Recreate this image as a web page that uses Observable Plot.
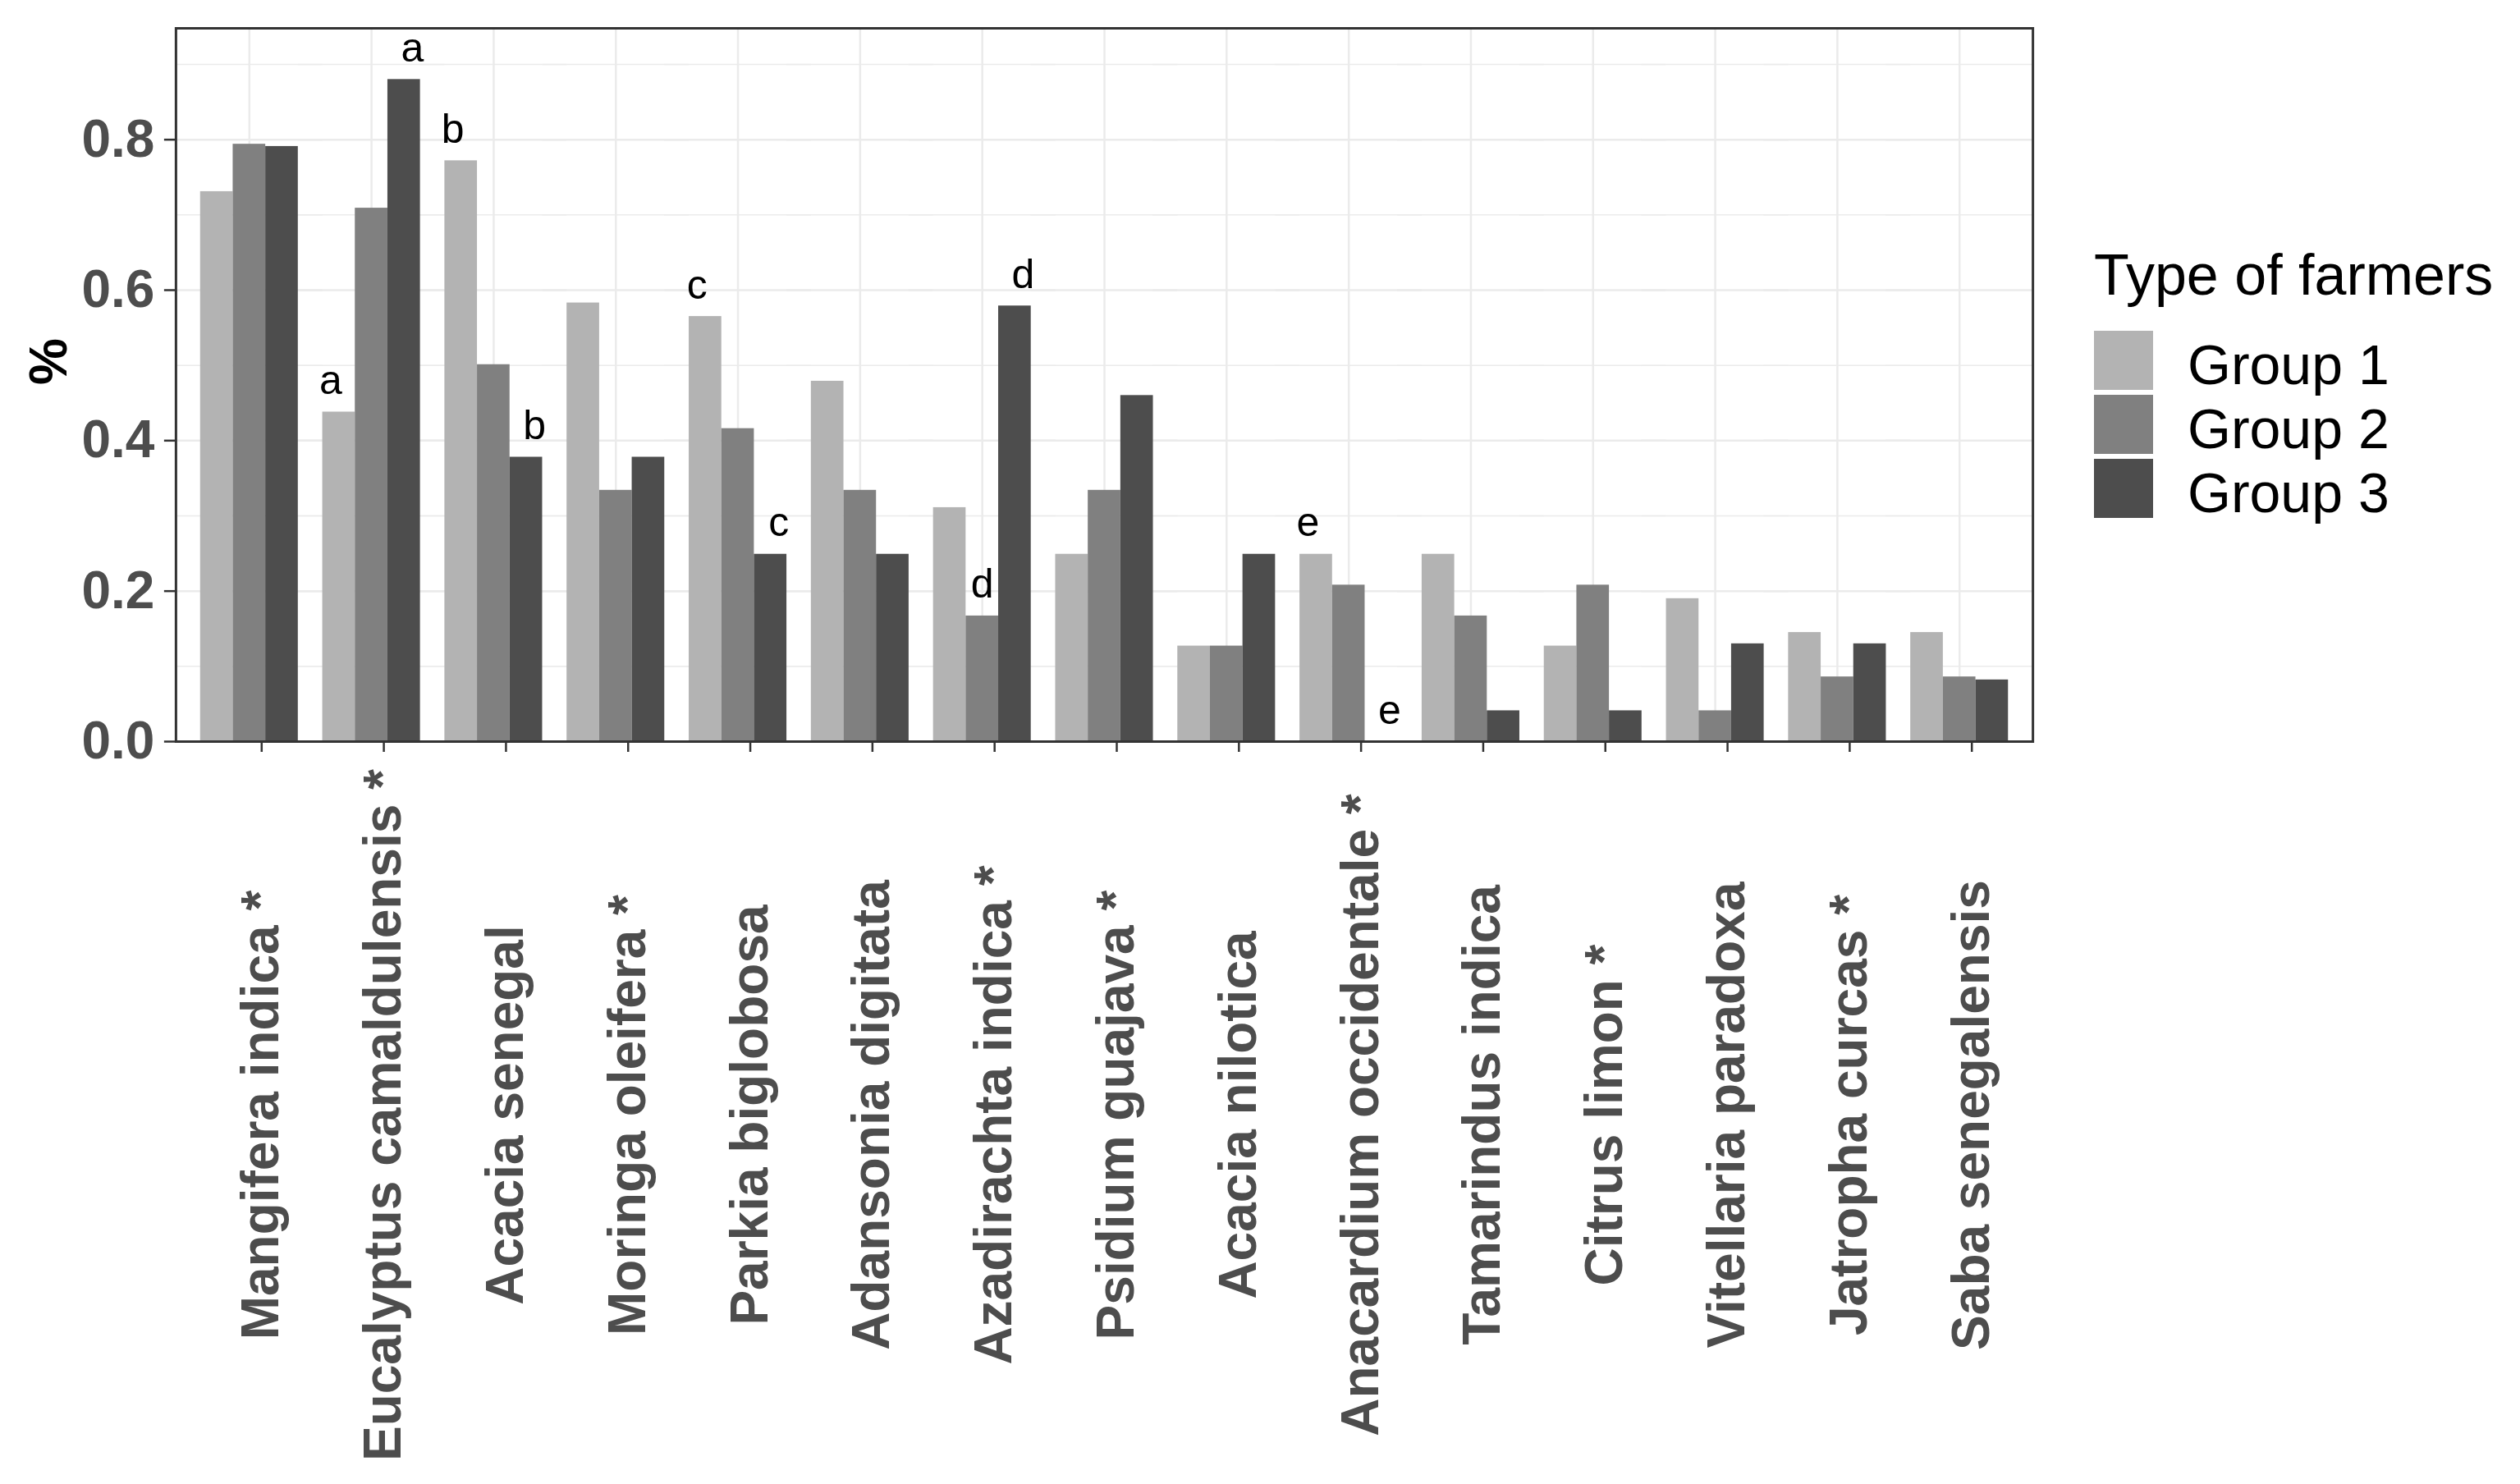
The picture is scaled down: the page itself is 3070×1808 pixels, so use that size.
<!DOCTYPE html>
<html>
<head>
<meta charset="utf-8">
<script src="https://cdn.jsdelivr.net/npm/d3@7"></script>
<script src="https://cdn.jsdelivr.net/npm/@observablehq/plot@0.6"></script>
<style>
  body { margin: 0; background: #ffffff; }
  #wrap { position: relative; width: 3070px; height: 1808px; background: #ffffff; }
  #legend { position: absolute; left: 2551px; top: 300px; font-family: "Liberation Sans", Arial, sans-serif; color: #000; }
  #legend .title { font-size: 70px; line-height: 70px; margin-bottom: 33px; white-space: nowrap; }
  #legend .row { display: flex; align-items: center; height: 72px; margin-bottom: 6px; }
  #legend .key { width: 72px; height: 72px; }
  #legend .lab { font-size: 68px; line-height: 72px; margin-left: 42px; white-space: nowrap; position: relative; top: 5px; }
</style>
</head>
<body>
<div id="wrap"><div id="chart"></div><div id="legend"></div></div>
<script>
const species = [
  "Mangifera indica *", "Eucalyptus camaldulensis *", "Acacia senegal", "Moringa oleifera *",
  "Parkia biglobosa", "Adansonia digitata", "Azadirachta indica *", "Psidium guajava *",
  "Acacia nilotica", "Anacardium occidentale *", "Tamarindus indica", "Citrus limon *",
  "Vitellaria paradoxa", "Jatropha curcas *", "Saba senegalensis"
];
const groups = ["Group 1", "Group 2", "Group 3"];
const group1 = [0.731, 0.438, 0.772, 0.583, 0.565, 0.479, 0.311, 0.249, 0.127, 0.249, 0.249, 0.127, 0.190, 0.145, 0.145];
const group2 = [0.794, 0.709, 0.501, 0.334, 0.416, 0.334, 0.167, 0.334, 0.127, 0.208, 0.167, 0.208, 0.041, 0.086, 0.086];
const group3 = [0.791, 0.880, 0.378, 0.378, 0.249, 0.249, 0.579, 0.460, 0.249, 0.000, 0.041, 0.041, 0.130, 0.130, 0.082];
const letterSpecies = ["Eucalyptus camaldulensis *", "Eucalyptus camaldulensis *", "Acacia senegal", "Acacia senegal",
  "Parkia biglobosa", "Parkia biglobosa", "Azadirachta indica *", "Azadirachta indica *",
  "Anacardium occidentale *", "Anacardium occidentale *"];
const letterGroups = ["Group 1", "Group 3", "Group 1", "Group 3", "Group 1", "Group 3", "Group 2", "Group 3", "Group 1", "Group 3"];
const letterText = ["a", "a", "b", "b", "c", "c", "d", "d", "e", "e"];
const yTicks = [0, 0.2, 0.4, 0.6, 0.8];
const yMinor = [0.1, 0.3, 0.5, 0.7, 0.9];
const fills = ["#B3B3B3", "#808080", "#4D4D4D"];
const legendTitle = "Type of farmers";
const yTitle = "%";

const series = [group1, group2, group3];
const data = [];
species.forEach((s, i) => groups.forEach((g, j) => data.push({species: s, group: g, value: series[j][i]})));
const labels = letterText.map((t, k) => {
  const i = species.indexOf(letterSpecies[k]);
  const j = groups.indexOf(letterGroups[k]);
  return {species: letterSpecies[k], group: letterGroups[k], label: t, value: series[j][i]};
});

const font = "'Liberation Sans', Arial, sans-serif";
const textOpts = (g, dx) => ({
  filter: d => d.group === g,
  fx: "species", x: "group", y: "value", text: "label",
  fontSize: 50, fill: "#000", lineAnchor: "middle", dy: -38, dx
});
const edge = 15; // panel extends this far beyond the outermost categories

const chart = Plot.plot({
  width: 3070,
  height: 1808,
  marginLeft: 214,
  marginRight: 594,
  marginTop: 34,
  marginBottom: 905,
  facet: {marginLeft: 0, marginRight: 0, marginTop: 0, marginBottom: 0},
  style: {fontFamily: font, background: "#ffffff", overflow: "visible"},
  fx: {domain: species, paddingInner: 0, paddingOuter: 0.1, round: false, label: null},
  x: {domain: groups, paddingInner: 0, paddingOuter: 0.375, round: false, axis: null},
  y: {domain: [0, 0.948], label: null},
  color: {domain: groups, range: fills},
  marks: [
    Plot.gridY(yMinor, {stroke: "#EBEBEB", strokeOpacity: 1, strokeWidth: 1.5, insetLeft: -edge, insetRight: -edge}),
    Plot.gridY(yTicks, {stroke: "#EBEBEB", strokeOpacity: 1, strokeWidth: 2.5, insetLeft: -edge, insetRight: -edge}),
    Plot.ruleX(species, {fx: d => d, x: () => "Group 2", stroke: "#EBEBEB", strokeWidth: 2.5}),
    Plot.barY(data, {fx: "species", x: "group", y: "value", fill: "group"}),
    Plot.text(labels, textOpts("Group 1", -10)),
    Plot.text(labels, textOpts("Group 2", 0)),
    Plot.text(labels, textOpts("Group 3", 10)),
    Plot.frame({facet: "super", stroke: "#333333", strokeWidth: 3, insetLeft: -edge, insetRight: -edge}),
    Plot.axisY(yTicks, {
      tickFormat: d3.format(".1f"),
      fontSize: 64, fontWeight: "bold", fill: "#4D4D4D",
      tickSize: 14, tickPadding: 12, stroke: "#333333", strokeWidth: 2.5,
      dx: -edge, label: null
    }),
    Plot.text([yTitle], {
      facet: "super", frameAnchor: "left", text: d => d, rotate: -90, dx: -169,
      fontSize: 64, fontWeight: "bold", fill: "#000"
    }),
    Plot.axisFx({
      anchor: "bottom",
      tickRotate: -90, textAnchor: "middle", lineAnchor: "middle",
      tickSize: 13, tickPadding: 442, dx: 15,
      fontSize: 64, fontWeight: "bold", fill: "#4D4D4D",
      stroke: "#333333", strokeWidth: 2.5, label: null
    })
  ]
});
document.getElementById("chart").appendChild(chart);

const legend = document.getElementById("legend");
const t = document.createElement("div");
t.className = "title";
t.textContent = legendTitle;
legend.appendChild(t);
groups.forEach((g, j) => {
  const row = document.createElement("div");
  row.className = "row";
  const key = document.createElement("div");
  key.className = "key";
  key.style.background = fills[j];
  const lab = document.createElement("div");
  lab.className = "lab";
  lab.textContent = g;
  row.appendChild(key);
  row.appendChild(lab);
  legend.appendChild(row);
});
</script>
</body>
</html>
